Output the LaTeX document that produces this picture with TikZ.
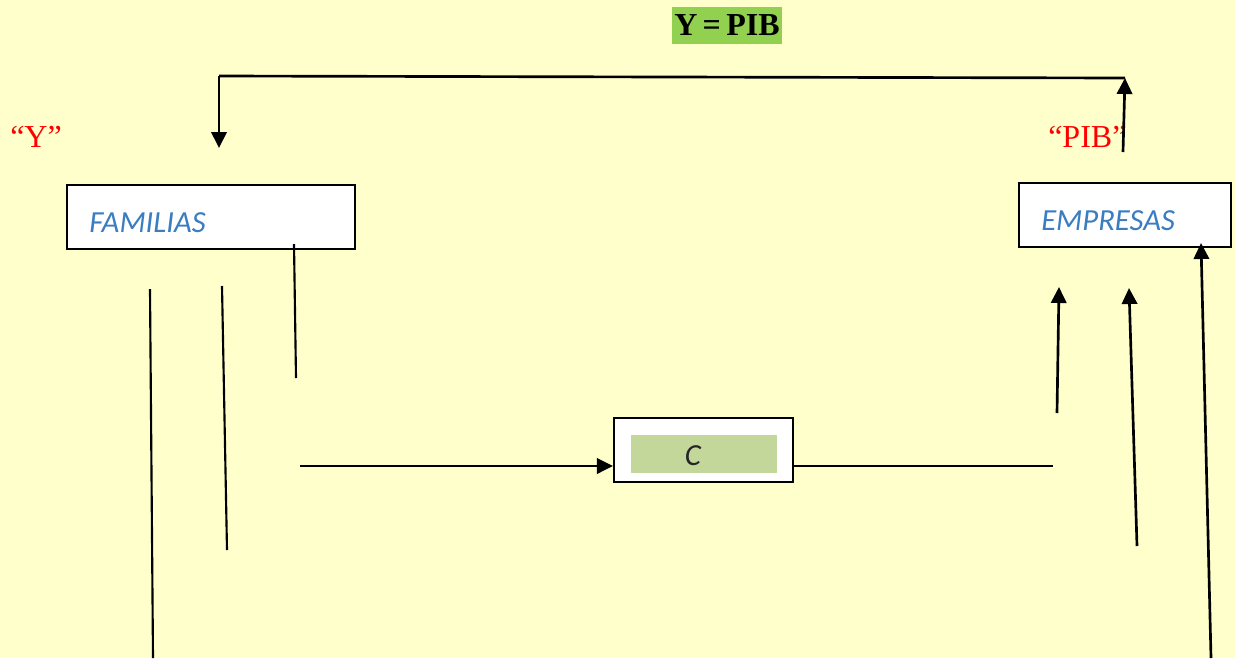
\documentclass[tikz,border=0pt]{standalone}
\usepackage{fontspec}
\setmainfont{Liberation Serif}
\newfontfamily\boxfont{Carlito}
\usetikzlibrary{arrows.meta}
\definecolor{bgyellow}{RGB}{255,255,204}
\definecolor{titlegreen}{RGB}{146,208,80}
\definecolor{innergreen}{RGB}{196,215,155}
\definecolor{boxblue}{RGB}{58,125,192}
\tikzset{
  px/.style={x=0.75pt,y=-0.75pt},
  flowbox/.style={draw=black,line width=1.6pt,fill=white,inner sep=0pt,minimum height=48pt},
  boxlabel/.style={font=\boxfont\itshape\fontsize{23}{27}\selectfont,text=boxblue,inner sep=0pt,anchor=base west},
  redlabel/.style={font=\fontsize{24}{28}\selectfont,text=red,inner sep=0pt,anchor=base west},
  conn/.style={draw=black,line width=2pt},
  thinconn/.style={draw=black,line width=1.6pt},
  arr/.style={conn,-{Triangle[length=12pt,width=11.5pt]}}
}
\begin{document}
\begin{tikzpicture}[px]
\fill[bgyellow] (0,0) rectangle (1235,658);
\useasboundingbox (0,0) rectangle (1235,658);
% title
\node[fill=titlegreen,inner sep=0pt,minimum width=82.5pt,minimum height=27.75pt,font=\bfseries\fontsize{24}{28}\selectfont] (title) at (727,25.5) {Y\,=\,PIB};
% labels
\node[redlabel] (ylab) at (10,147) {“Y”};
\node[redlabel] (piblab) at (1048,147) {“PIB”};
% boxes
\node[flowbox,minimum width=216pt] (fam) at (211,217) {};
\node[boxlabel] (famtxt) at (89,232) {FAMILIAS};
\node[flowbox,minimum width=159pt] (emp) at (1125,215) {};
\node[boxlabel] (emptxt) at (1041,230) {EMPRESAS};
\node[flowbox,minimum width=134.25pt] (cbox) at (703.5,450) {};
\node[fill=innergreen,inner sep=0pt,minimum width=109.5pt,minimum height=28.5pt] (cin) at (704,454) {};
\node[font=\boxfont\itshape\fontsize{23}{27}\selectfont,text=black!85,inner sep=0pt,anchor=base] (ctxt) at (693,465) {C};
% coordinates
\coordinate (tl) at (219,76);
\coordinate (tlend) at (219,148);
\coordinate (tr) at (1125,78);
\coordinate (trstart) at (1123,152);
\coordinate (f1a) at (294,244);
\coordinate (f1b) at (296,378);
\coordinate (f2a) at (150,289);
\coordinate (f2b) at (153,658);
\coordinate (f3a) at (222,286);
\coordinate (f3b) at (227,550);
\coordinate (cin1) at (300,466);
\coordinate (cout1) at (1053,466);
\coordinate (e1a) at (1057,413);
\coordinate (e1b) at (1059,287);
\coordinate (e2a) at (1137,546);
\coordinate (e2b) at (1129,288);
\coordinate (e3a) at (1211,658);
\coordinate (e3b) at (1201,243);
% connectors
\draw[conn] (tr) -- (tl);
\draw[arr] (tl) -- (tlend);
\draw[arr] (trstart) -- (tr);
\draw[thinconn] (f1a) -- (f1b);
\draw[thinconn] (f2a) -- (f2b);
\draw[thinconn] (f3a) -- (f3b);
\draw[arr] (cin1) -- (cin1 -| cbox.west);
\draw[conn] (cbox.east |- cout1) -- (cout1);
\draw[arr] (e1a) -- (e1b);
\draw[arr] (e2a) -- (e2b);
\draw[arr] (e3a) -- (e3b);
\end{tikzpicture}
\end{document}
